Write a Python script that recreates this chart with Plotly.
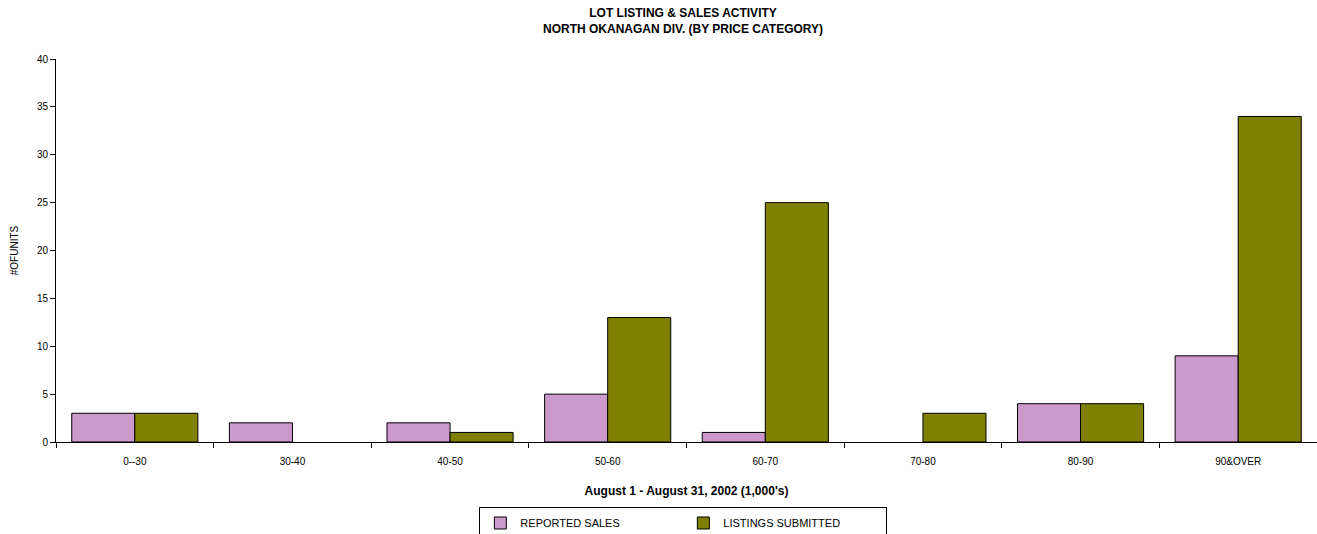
import plotly.graph_objects as go

categories = ["0--30", "30-40", "40-50", "50-60", "60-70", "70-80", "80-90", "90&OVER"]
reported_sales = [3, 2, 2, 5, 1, 0, 4, 9]
listings_submitted = [3, 0, 1, 13, 25, 3, 4, 34]
y_ticks = [0, 5, 10, 15, 20, 25, 30, 35, 40]

FONT = "Liberation Sans, Arial, sans-serif"


def outline(values):
    return [1 if v else 0 for v in values]


fig = go.Figure()
fig.add_trace(go.Bar(name="REPORTED SALES", x=categories, y=reported_sales,
                     marker=dict(color="#CC99CC",
                                 line=dict(color="black", width=outline(reported_sales)))))
fig.add_trace(go.Bar(name="LISTINGS SUBMITTED", x=categories, y=listings_submitted,
                     marker=dict(color="#808000",
                                 line=dict(color="black", width=outline(listings_submitted)))))

fig.update_layout(
    width=1317, height=534,
    paper_bgcolor="white", plot_bgcolor="white",
    margin=dict(l=56, r=0, t=59, b=92, autoexpand=False),
    barmode="group", bargap=0.2, bargroupgap=0,
    font=dict(family=FONT, size=11, color="black"),
    annotations=[dict(
        text="<b>LOT LISTING & SALES ACTIVITY<br>NORTH OKANAGAN DIV. (BY PRICE CATEGORY)</b>",
        xref="paper", yref="paper", x=0.497, y=1.098, xanchor="center", yanchor="middle",
        showarrow=False, font=dict(family=FONT, size=12, color="black"))],
    showlegend=True,
    legend=dict(orientation="h", x=0.4975, xanchor="center", y=-0.171, yanchor="top",
                bordercolor="black", borderwidth=1, bgcolor="white",
                font=dict(family=FONT, size=11, color="black"),
                entrywidth=158, itemwidth=30, tracegroupgap=0),
)
fig.update_xaxes(
    automargin=False,
    showline=True, linecolor="black", linewidth=1,
    ticks="outside", ticklen=5, tickcolor="black", tickson="boundaries",
    ticklabelstandoff=10,
    showgrid=False, tickfont=dict(size=10),
    title=dict(text="<b>August 1 - August 31, 2002 (1,000's)</b>", standoff=20,
               font=dict(family=FONT, size=12, color="black")),
)
fig.update_yaxes(
    automargin=False,
    range=[0, 40], tickvals=y_ticks, showline=True, linecolor="black", linewidth=1,
    ticks="outside", ticklen=5, tickcolor="black", showgrid=False, zeroline=False,
    tickfont=dict(size=10),
    title=dict(text="#OFUNITS", standoff=16, font=dict(family=FONT, size=10, color="black")),
)

fig.write_html("out.html", config={"displayModeBar": False},
               post_script="document.body.style.margin='0';")
